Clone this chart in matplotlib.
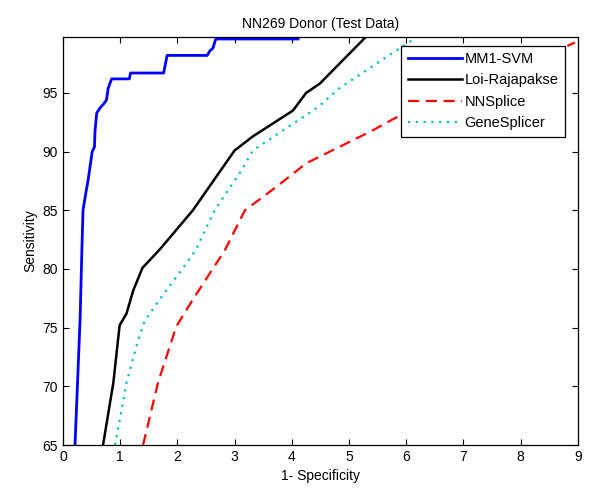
import matplotlib
matplotlib.use("Agg")
import matplotlib.pyplot as plt

plt.rcParams['font.family'] = ['Liberation Sans', 'DejaVu Sans']

# ROC points (1-specificity %, sensitivity %)
mm1_x = [0.21, 0.24, 0.30, 0.33, 0.35, 0.40, 0.44, 0.49, 0.51, 0.55, 0.56, 0.59, 0.66, 0.70,
         0.76, 0.79, 0.85, 1.16, 1.18, 1.76, 1.82, 2.52, 2.57, 2.62, 2.67, 4.11]
mm1_y = [65.0, 68.6, 75.9, 81.6, 85.0, 86.5, 87.6, 89.3, 90.0, 90.4, 91.8, 93.3, 93.8, 94.0,
         94.4, 95.4, 96.2, 96.2, 96.7, 96.7, 98.2, 98.2, 98.6, 98.8, 99.6, 99.6]

loi_x = [0.70, 0.88, 0.99, 1.11, 1.23, 1.39, 1.68, 2.27, 3.00, 3.32, 4.02, 4.25, 4.49, 5.30]
loi_y = [65.0, 70.3, 75.2, 76.2, 78.2, 80.1, 81.6, 85.0, 90.1, 91.3, 93.5, 95.0, 95.8, 99.8]

nns_x = [1.40, 1.66, 1.98, 2.27, 2.83, 3.18, 3.73, 4.25, 4.83, 5.41, 5.82, 6.5, 7.5, 8.5, 8.95]
nns_y = [65.0, 70.3, 75.1, 77.4, 81.6, 85.0, 87.0, 89.0, 90.4, 91.8, 92.9, 94.0, 96.0, 98.3, 99.3]

gene_x = [0.91, 1.11, 1.31, 1.43, 1.69, 2.07, 2.32, 2.65, 3.12, 3.32, 4.46, 4.83, 5.82, 6.11, 6.14]
gene_y = [65.0, 70.3, 73.9, 75.6, 77.4, 79.9, 81.6, 85.0, 88.4, 90.1, 93.8, 95.4, 98.6, 99.5, 99.8]

fig = plt.figure(figsize=(6.0, 4.95), dpi=100)
ax = fig.add_axes([0.105, 0.101, 0.858, 0.825])

ax.plot(mm1_x, mm1_y, color='#0000ff', lw=2.0, label='MM1-SVM')
ax.plot(loi_x, loi_y, color='black', lw=1.8, label='Loi-Rajapakse')
ax.plot(nns_x, nns_y, color='#ff0000', lw=1.6, ls=(0, (5, 3)), label='NNSplice')
ax.plot(gene_x, gene_y, color='#00bfbf', lw=1.6, ls=(0, (1, 2.5)), label='GeneSplicer')

ax.set_xlim(0, 9)
ax.set_ylim(65, 99.8)
ax.set_xticks(range(0, 10))
ax.set_yticks(range(65, 100, 5))
ax.tick_params(direction='in', top=True, right=True, labelsize=10, length=4)
for s in ax.spines.values():
    s.set_linewidth(0.9)

ax.set_xlabel('1- Specificity', fontsize=10)
ax.set_ylabel('Sensitivity', fontsize=10)
ax.set_title('NN269 Donor (Test Data)', fontsize=10)

leg = ax.legend(loc='upper right', fontsize=10.5, handlelength=3.7, fancybox=False,
                framealpha=1, edgecolor='black', borderaxespad=0, labelspacing=0.5,
                handletextpad=0.2, borderpad=0.45, bbox_to_anchor=(0.975, 0.978))
leg.get_frame().set_linewidth(0.9)

fig.savefig('out.png', dpi=100)
